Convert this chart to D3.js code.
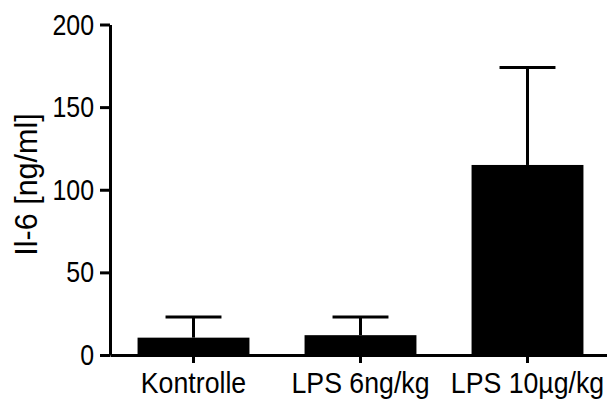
<!DOCTYPE html>
<html>
<head>
<meta charset="utf-8">
<script src="https://cdn.jsdelivr.net/npm/d3@7"></script>
<style>
  body { margin: 0; background: #fff; }
  svg text { font-family: "Liberation Sans", Arial, sans-serif; fill: #000; }
</style>
</head>
<body>
<div class="wrapper"></div>
<script>
const width = 607;
const height = 403;

const categories = ["Kontrolle", "LPS 6ng/kg", "LPS 10µg/kg"];
const means = [10.5, 12, 115];
const errors = [12.5, 11, 59];
const yTicks = [0, 50, 100, 150, 200];

const rows = categories.map((c, i) => ({ name: c, mean: means[i], err: errors[i] }));

const svg = d3
  .select(".wrapper")
  .append("svg")
  .attr("width", width)
  .attr("height", height);

const x = d3.scaleBand().domain(categories).range([110, 611]).paddingInner(0.33).paddingOuter(0.165);
const y = d3.scaleLinear().domain([0, 200]).range([355, 24.5]);

// bars
svg
  .append("g")
  .selectAll()
  .data(rows)
  .join("rect")
  .attr("x", (d) => x(d.name))
  .attr("y", (d) => y(d.mean))
  .attr("width", x.bandwidth())
  .attr("height", (d) => y(0) - y(d.mean))
  .attr("fill", "#000");

// error bars (upper only)
const err = svg.append("g").attr("stroke", "#000").attr("stroke-width", 3);
err
  .selectAll()
  .data(rows)
  .join("line")
  .attr("x1", (d) => x(d.name) + x.bandwidth() / 2)
  .attr("x2", (d) => x(d.name) + x.bandwidth() / 2)
  .attr("y1", (d) => y(d.mean))
  .attr("y2", (d) => y(d.mean + d.err));
err
  .selectAll()
  .data(rows)
  .join("line")
  .attr("x1", (d) => x(d.name) + x.bandwidth() / 4)
  .attr("x2", (d) => x(d.name) + (x.bandwidth() * 3) / 4)
  .attr("y1", (d) => y(d.mean + d.err))
  .attr("y2", (d) => y(d.mean + d.err));

// y axis
const yAxis = svg
  .append("g")
  .attr("transform", "translate(110,0)")
  .call(d3.axisLeft(y).tickValues(yTicks).tickSize(10).tickSizeOuter(0).tickPadding(6));

// x axis
const xAxis = svg
  .append("g")
  .attr("transform", `translate(0,${y(0)})`)
  .call(d3.axisBottom(x).tickSize(8).tickSizeOuter(0).tickPadding(9));

[yAxis, xAxis].forEach((g) => {
  g.select(".domain").attr("stroke", "#000").attr("stroke-width", 3);
  g.selectAll(".tick line").attr("stroke", "#000").attr("stroke-width", 3);
  g.selectAll(".tick text").attr("font-size", 30).attr("fill", "#000")
    .style("font-family", '"Liberation Sans", Arial, sans-serif');
});

// the original tick labels use a narrower face: squeeze glyphs horizontally
const squeeze = (sel, k) =>
  sel.each(function () {
    const len = this.getComputedTextLength();
    d3.select(this).attr("textLength", len * k).attr("lengthAdjust", "spacingAndGlyphs");
  });
squeeze(yAxis.selectAll(".tick text"), 0.83);
squeeze(xAxis.selectAll(".tick text"), 0.89);

svg
  .append("text")
  .attr("transform", "translate(36.5,184.5) rotate(-90)")
  .attr("text-anchor", "middle")
  .attr("font-size", 30.5)
  .text("Il-6 [ng/ml]");
</script>
</body>
</html>
